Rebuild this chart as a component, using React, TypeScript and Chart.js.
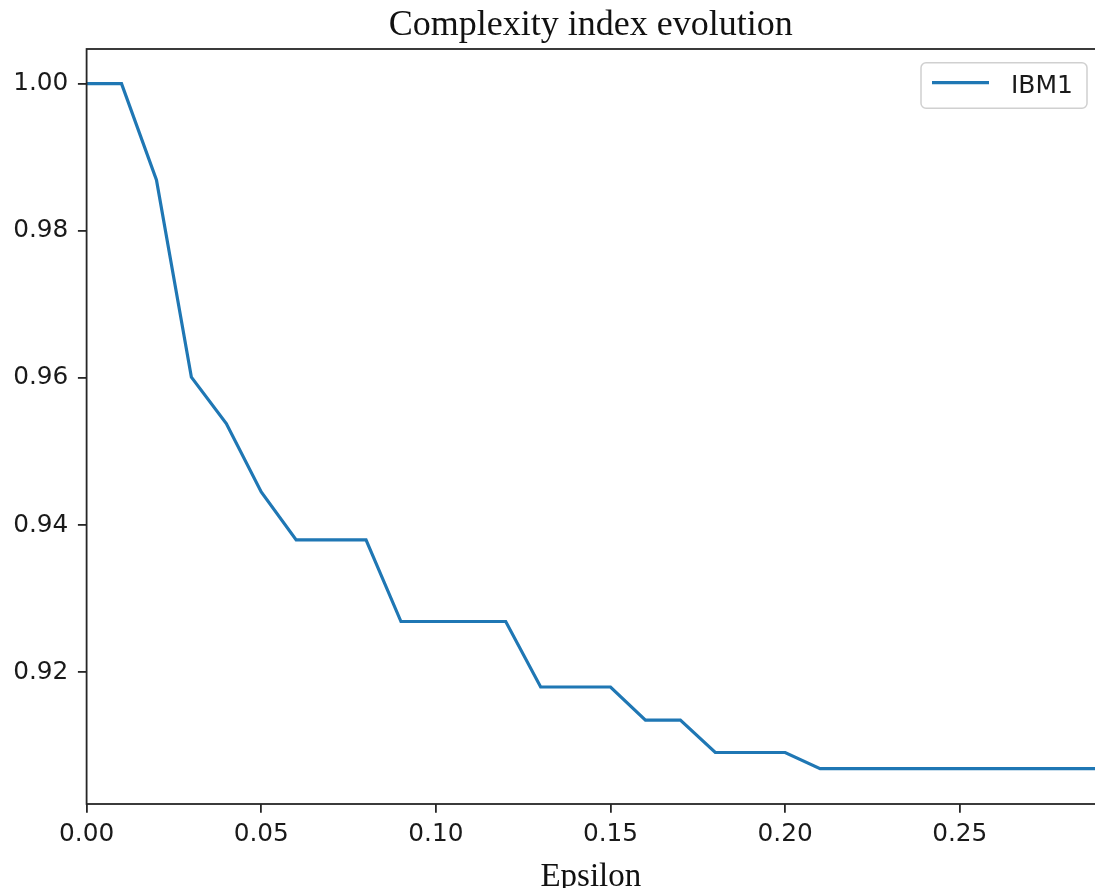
import React, { useEffect, useRef } from "react";
import { Chart, registerables } from "chart.js";

Chart.register(...registerables);

const chartTitle = "Complexity index evolution";
const xAxisTitle = "Epsilon";
const seriesLabel = "IBM1";

const epsilon = [
  0.0, 0.01, 0.02, 0.03, 0.04, 0.05, 0.06, 0.07, 0.08, 0.09,
  0.1, 0.11, 0.12, 0.13, 0.14, 0.15, 0.16, 0.17, 0.18, 0.19,
  0.2, 0.21, 0.22, 0.23, 0.24, 0.25, 0.26, 0.27, 0.28, 0.29,
];

const complexityIBM1 = [
  1.0, 1.0, 0.9869, 0.9601, 0.9538, 0.9445, 0.938, 0.938, 0.938, 0.9269,
  0.9269, 0.9269, 0.9269, 0.918, 0.918, 0.918, 0.9135, 0.9135, 0.9091, 0.9091,
  0.9091, 0.9069, 0.9069, 0.9069, 0.9069, 0.9069, 0.9069, 0.9069, 0.9069, 0.9069,
];

const xTickValues = [0.0, 0.05, 0.1, 0.15, 0.2, 0.25];
const yTickValues = [0.92, 0.94, 0.96, 0.98, 1.0];

const xRange = [0, 0.29];
const yRange = [0.9021, 1.0047];

const VISIBLE_W = 1095;
const CANVAS_W = 1104;
const CANVAS_H = 888;

export default function App() {
  const ref = useRef<HTMLCanvasElement | null>(null);

  useEffect(() => {
    const canvas = ref.current;
    if (!canvas) return;

    const decorPlugin = {
      id: "decor",
      afterDraw(chart: any) {
        const { ctx, chartArea: a } = chart;
        ctx.save();
        // spines
        ctx.strokeStyle = "#262626";
        ctx.lineWidth = 1.8;
        ctx.strokeRect(a.left, a.top, a.right - a.left, a.bottom - a.top);

        // title & x label
        const cx = (a.left + VISIBLE_W) / 2;
        ctx.fillStyle = "#111111";
        ctx.textAlign = "center";
        ctx.textBaseline = "alphabetic";
        ctx.font = '36px "Liberation Serif"';
        ctx.fillText(chartTitle, cx, a.top - 14.5);
        ctx.font = '33px "Liberation Serif"';
        ctx.fillText(xAxisTitle, cx, a.bottom + 81.5);

        // legend
        const ds = chart.data.datasets[0];
        ctx.font = '25px "DejaVu Sans"';
        const tw = ctx.measureText(ds.label).width;
        const right = a.right - 12.5;
        const top = a.top + 13.7;
        const h = 45.6;
        const w = 11 + 57 + 22 + tw + 14;
        const left = right - w;
        ctx.beginPath();
        ctx.roundRect(left, top, w, h, 5);
        ctx.fillStyle = "rgba(255,255,255,0.8)";
        ctx.fill();
        ctx.strokeStyle = "#d0d0d0";
        ctx.lineWidth = 1.5;
        ctx.stroke();

        ctx.beginPath();
        ctx.strokeStyle = ds.borderColor;
        ctx.lineWidth = 3.2;
        ctx.moveTo(left + 11, top + 20);
        ctx.lineTo(left + 68, top + 20);
        ctx.stroke();

        ctx.fillStyle = "#1a1a1a";
        ctx.textAlign = "left";
        ctx.fillText(ds.label, left + 90, top + 30.6);
        ctx.restore();
      },
    };

    const tickFont = { family: "DejaVu Sans", size: 24.8 };

    const chart = new Chart(canvas, {
      type: "line",
      data: {
        datasets: [
          {
            label: seriesLabel,
            data: epsilon.map((x, i) => ({ x, y: complexityIBM1[i] })),
            borderColor: "#1f77b4",
            backgroundColor: "#1f77b4",
            borderWidth: 3.2,
            pointRadius: 0,
            tension: 0,
            fill: false,
          },
        ],
      },
      options: {
        animation: false,
        responsive: false,
        devicePixelRatio: 1,
        layout: { padding: { top: 49, right: CANVAS_W - 1099.5, left: 0, bottom: 0 } },
        plugins: {
          legend: { display: false },
          title: { display: false },
          tooltip: { enabled: false },
        },
        scales: {
          x: {
            type: "linear",
            min: xRange[0],
            max: xRange[1],
            afterBuildTicks: (s: any) => {
              s.ticks = xTickValues.map((v) => ({ value: v }));
            },
            afterFit: (s: any) => {
              s.height = 84;
            },
            grid: {
              drawOnChartArea: false,
              drawTicks: true,
              tickLength: 8.7,
              color: "#262626",
              lineWidth: 1.8,
            },
            border: { display: false },
            ticks: {
              padding: 7,
              font: tickFont,
              color: "#1a1a1a",
              maxRotation: 0,
              autoSkip: false,
              callback: (v: any) => Number(v).toFixed(2),
            },
          },
          y: {
            type: "linear",
            min: yRange[0],
            max: yRange[1],
            afterBuildTicks: (s: any) => {
              s.ticks = yTickValues.map((v) => ({ value: v }));
            },
            afterFit: (s: any) => {
              s.width = 86.6;
            },
            grid: {
              drawOnChartArea: false,
              drawTicks: true,
              tickLength: 8.7,
              color: "#262626",
              lineWidth: 1.8,
            },
            border: { display: false },
            ticks: {
              padding: 9.5,
              font: tickFont,
              color: "#1a1a1a",
              autoSkip: false,
              callback: (v: any) => Number(v).toFixed(2),
            },
          },
        },
      },
      plugins: [decorPlugin],
    } as any);

    return () => chart.destroy();
  }, []);

  return (
    <div
      style={{
        position: "fixed",
        left: 0,
        top: 0,
        width: VISIBLE_W,
        height: CANVAS_H,
        overflow: "hidden",
        background: "#ffffff",
      }}
    >
      <canvas ref={ref} width={CANVAS_W} height={CANVAS_H} style={{ display: "block" }} />
    </div>
  );
}
